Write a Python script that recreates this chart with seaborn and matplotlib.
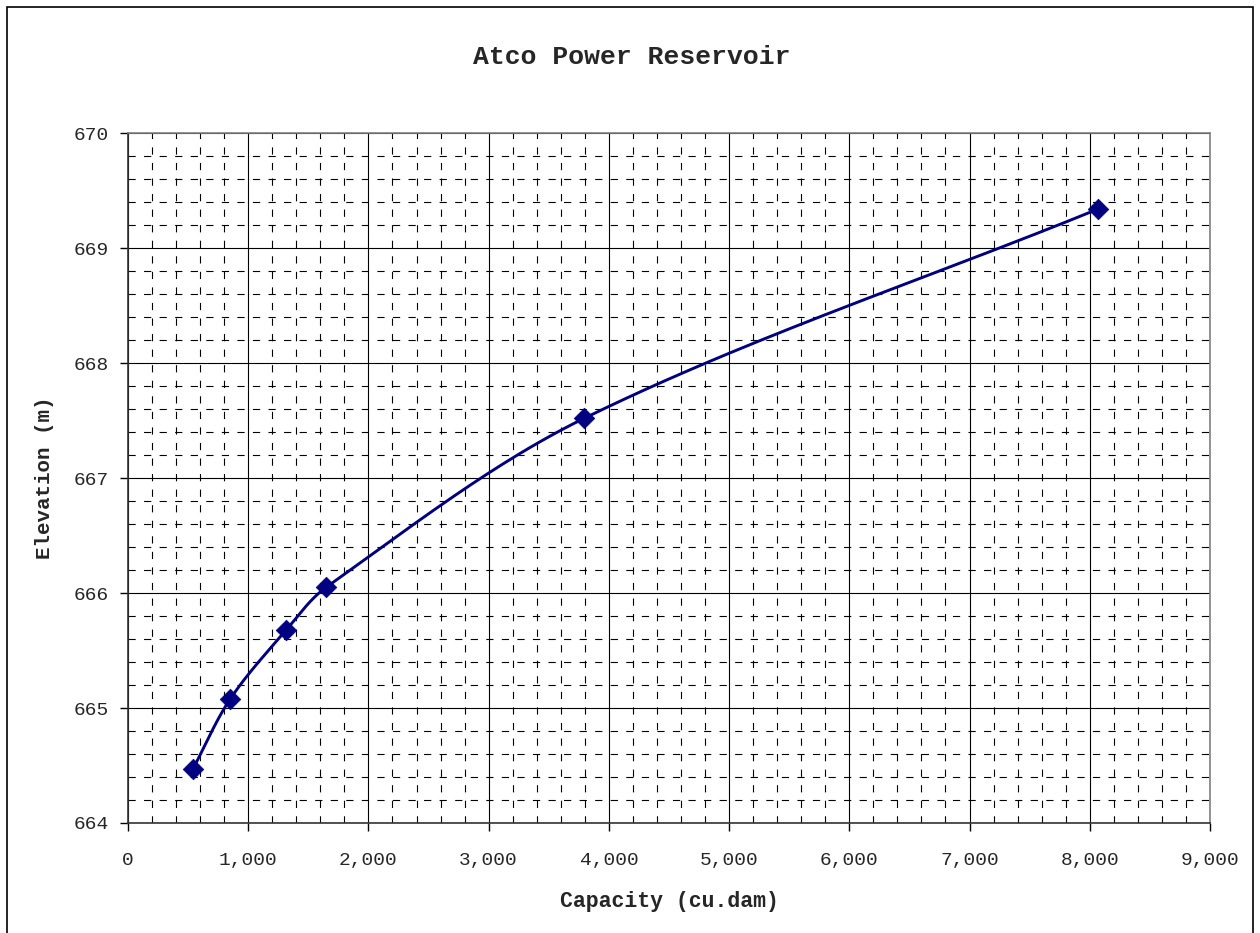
import numpy as np
import pandas as pd
import matplotlib
matplotlib.use("Agg")
import matplotlib.pyplot as plt
from matplotlib.ticker import MultipleLocator, FuncFormatter
from matplotlib.patches import Rectangle
import seaborn as sns

# Data
capacity = [540, 851, 1317, 1649, 3796, 8071]
elevation = [664.47, 665.08, 665.68, 666.05, 667.52, 669.34]

title = "Atco Power Reservoir"
xlabel = "Capacity (cu.dam)"
ylabel = "Elevation (m)"

XMIN, XMAX, YMIN, YMAX = 0, 9000, 664, 670

sns.set_style("white")
plt.rcParams['font.family'] = ['Liberation Mono', 'DejaVu Sans']

fig = plt.figure(figsize=(12.6, 9.33), dpi=100)
ax = fig.add_axes([0.1016, 0.1179, 0.8587, 0.7395])

# Smoothed line (Excel-style smoothing through the points), computed in screen-like units
W, H = 1082.0, 690.0
P = np.column_stack([(np.array(capacity) - XMIN) / (XMAX - XMIN) * W,
                     (np.array(elevation) - YMIN) / (YMAX - YMIN) * H])
n = len(P)
tang = []
for i in range(n):
    d = P[min(i + 1, n - 1)] - P[max(i - 1, 0)]
    tang.append(d / np.linalg.norm(d))
cx, cy = [], []
t = np.linspace(0, 1, 50)
for i in range(n - 1):
    p1, p2 = P[i], P[i + 1]
    L = np.linalg.norm(p2 - p1)
    c1 = p1 + tang[i] * L / 3.0
    c2 = p2 - tang[i + 1] * L / 3.0
    for tt in t:
        b = ((1 - tt) ** 3) * p1 + 3 * ((1 - tt) ** 2) * tt * c1 + 3 * (1 - tt) * tt ** 2 * c2 + tt ** 3 * p2
        cx.append(XMIN + b[0] / W * (XMAX - XMIN))
        cy.append(YMIN + b[1] / H * (YMAX - YMIN))
curve = pd.DataFrame({"x": cx, "y": cy})
pts = pd.DataFrame({"capacity": capacity, "elevation": elevation})

sns.lineplot(data=curve, x="x", y="y", sort=False, color="#000080", linewidth=2.1, ax=ax, zorder=3)
sns.scatterplot(data=pts, x="capacity", y="elevation", marker="D", s=110, color="#000080",
                edgecolor="#000080", linewidth=0.5, ax=ax, zorder=4)

ax.set_xlim(XMIN, XMAX)
ax.set_ylim(YMIN, YMAX)
ax.xaxis.set_major_locator(MultipleLocator(1000))
ax.xaxis.set_minor_locator(MultipleLocator(200))
ax.yaxis.set_major_locator(MultipleLocator(1))
ax.yaxis.set_minor_locator(MultipleLocator(0.2))
ax.xaxis.set_major_formatter(FuncFormatter(lambda v, p: f"{int(v):,}"))
ax.yaxis.set_major_formatter(FuncFormatter(lambda v, p: f"{int(v)}"))

ax.grid(True, which="major", color="black", linewidth=0.8, linestyle="-")
ax.grid(True, which="minor", color="black", linewidth=0.8, linestyle=(0, (6.5, 7.5)))
ax.set_axisbelow(True)

ax.tick_params(axis="x", which="major", direction="out", length=6, width=1, color="black",
               labelsize=14, pad=15, bottom=True)
ax.tick_params(axis="y", which="major", direction="out", length=6, width=1, color="black",
               labelsize=14, pad=8, left=True)
ax.tick_params(axis="both", which="minor", length=0)

for s in ["left", "bottom"]:
    ax.spines[s].set_color("#333333")
    ax.spines[s].set_linewidth(1.2)
for s in ["top", "right"]:
    ax.spines[s].set_color("#808080")
    ax.spines[s].set_linewidth(1.2)

ax.set_xlabel(xlabel, fontsize=15.5, fontweight="bold", labelpad=16)
ax.set_ylabel(ylabel, fontsize=15, fontweight="bold", labelpad=14)
fig.text(0.5016, 0.939, title, fontsize=19, fontweight="bold", ha="center", va="center")

fig.patches.append(Rectangle((0.0055, -0.01), 0.989, 1.003, transform=fig.transFigure,
                             fill=False, edgecolor="black", linewidth=1.2))

fig.savefig("out.png", dpi=100)
